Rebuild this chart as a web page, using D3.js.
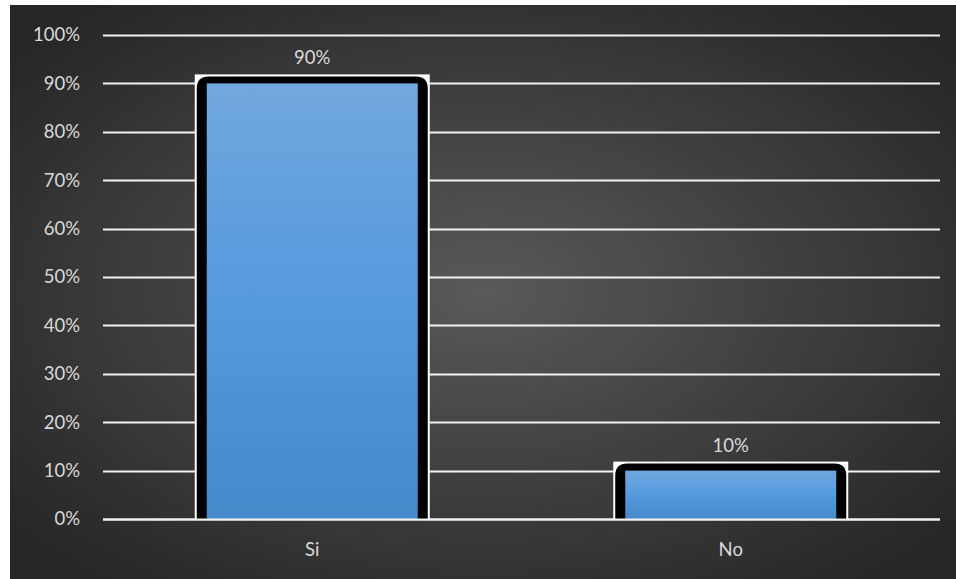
<!DOCTYPE html>
<html>
<head>
<meta charset="utf-8">
<script src="https://d3js.org/d3.v7.min.js"></script>
<style>
  body { margin: 0; background: #fff; }
  text { font-family: Lato, "Open Sans", sans-serif; fill: #d9d9d9; }
</style>
</head>
<body>
<script>
const categories = ["Si", "No"];
const values = [0.90, 0.10];
const tickValues = [0, 0.1, 0.2, 0.3, 0.4, 0.5, 0.6, 0.7, 0.8, 0.9, 1.0];

const W = 956, H = 579;
const fontSize = "18.5px";
const svg = d3.select("body").append("svg").attr("width", W).attr("height", H);

const defs = svg.append("defs");
const bg = defs.append("radialGradient").attr("id", "bg")
  .attr("cx", "50%").attr("cy", "50%").attr("r", "65%");
bg.append("stop").attr("offset", "0%").attr("stop-color", "#595959");
bg.append("stop").attr("offset", "100%").attr("stop-color", "#262626");

const barGrad = defs.append("linearGradient").attr("id", "bar")
  .attr("x1", 0).attr("y1", 0).attr("x2", 0).attr("y2", 1);
barGrad.append("stop").attr("offset", "0%").attr("stop-color", "#71a7de");
barGrad.append("stop").attr("offset", "50%").attr("stop-color", "#559ade");
barGrad.append("stop").attr("offset", "100%").attr("stop-color", "#4489c8");

svg.append("rect").attr("x", 10).attr("y", 5).attr("width", W - 10).attr("height", H - 5)
  .attr("fill", "url(#bg)");

const mLeft = 103, mRight = 940, mTop = 35, mBottom = 519;

const x = d3.scaleBand().domain(categories).range([mLeft, mRight]).paddingInner(0).paddingOuter(0);
const y = d3.scaleLinear().domain([0, 1]).range([mBottom, mTop]);

// gridlines
svg.append("g").selectAll("line").data(tickValues).join("line")
  .attr("x1", mLeft).attr("x2", mRight)
  .attr("y1", d => Math.round(y(d)) + 0.5).attr("y2", d => Math.round(y(d)) + 0.5)
  .attr("stroke", "#f2f2f2").attr("stroke-width", 2);

// y axis labels
const yAxis = d3.axisLeft(y).tickValues(tickValues).tickFormat(d3.format(".0%")).tickSize(0).tickPadding(23);
const gy = svg.append("g").attr("transform", `translate(${mLeft},0)`).call(yAxis);
gy.select(".domain").remove();
gy.selectAll("text").attr("fill", "#d9d9d9").style("font-size", fontSize)
  .style("font-family", "Lato, sans-serif");

// x axis labels
const xAxis = d3.axisBottom(x).tickSize(0).tickPadding(24);
const gx = svg.append("g").attr("transform", `translate(0,${mBottom})`).call(xAxis);
gx.select(".domain").remove();
gx.selectAll("text").attr("fill", "#d9d9d9").style("font-size", fontSize)
  .style("font-family", "Lato, sans-serif");

const innerW = 211, borderW = 10;
const bars = svg.append("g").selectAll("g").data(categories).join("g");

bars.each(function(c, i) {
  const g = d3.select(this);
  const cx = x(c) + x.bandwidth() / 2;
  const yt = y(values[i]);
  const x0 = cx - innerW / 2;
  // white box behind the rounded border
  g.append("rect")
    .attr("x", x0 - borderW - 2).attr("y", yt - 9)
    .attr("width", innerW + 2 * borderW + 4).attr("height", mBottom - yt + 9)
    .attr("fill", "#ffffff");
  // black rounded border
  g.append("path")
    .attr("d", () => {
      const l = x0 - borderW, r = x0 + innerW + borderW, t = yt - 7, b = mBottom, rr = 12;
      return `M${l},${b}L${l},${t + rr}Q${l},${t} ${l + rr},${t}L${r - rr},${t}Q${r},${t} ${r},${t + rr}L${r},${b}Z`;
    })
    .attr("fill", "#000");
  // blue fill
  g.append("rect")
    .attr("x", x0).attr("y", yt)
    .attr("width", innerW).attr("height", mBottom - yt)
    .attr("fill", "url(#bar)");
  // value label
  g.append("text").attr("x", cx).attr("y", yt - 19)
    .attr("text-anchor", "middle").style("font-size", fontSize)
    .text(d3.format(".0%")(values[i]));
});

// baseline over bars
svg.append("line").attr("x1", mLeft).attr("x2", mRight)
  .attr("y1", mBottom + 0.5).attr("y2", mBottom + 0.5)
  .attr("stroke", "#f2f2f2").attr("stroke-width", 2);
</script>
</body>
</html>
